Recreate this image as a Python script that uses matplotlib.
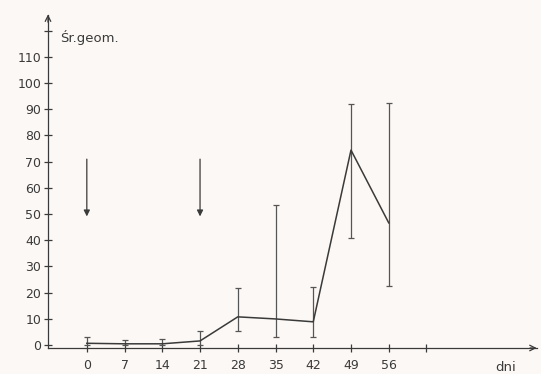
import numpy as np
import matplotlib
matplotlib.use("Agg")
import matplotlib.pyplot as plt

# days and geometric means
days = [0, 7, 14, 21, 28, 35, 42, 49, 56]
mean = [0.6, 0.4, 0.4, 1.5, 10.7, 9.9, 8.8, 74.4, 46.6]
err_lo = [0, 0, 0, 0, 5.3, 3.0, 3.0, 40.8, 22.5]
err_hi = [3.0, 2.0, 2.3, 5.3, 21.8, 53.4, 22.0, 92.0, 92.4]
yticks = [0, 10, 20, 30, 40, 50, 60, 70, 80, 90, 100, 110, 120]
ylabels = ["0", "10", "20", "30", "40", "50", "60", "70", "80", "90", "100", "110", ""]
xticks = [0, 7, 14, 21, 28, 35, 42, 49, 56, 63]
xlabels = ["0", "7", "14", "21", "28", "35", "42", "49", "56", ""]
arrow_days = [0, 21]

ink = "#3a3a3a"
bg = "#fcf8f5"

fig = plt.figure(figsize=(5.41, 3.74), dpi=100, facecolor=bg)
ax = fig.add_axes([48/541, 26/374, 489/541, 333/374], facecolor=bg)

m = np.array(mean)
yerr = [m - np.array(err_lo), np.array(err_hi) - m]
ax.errorbar(days, mean, yerr=yerr, color=ink, lw=1.1, ecolor="#555555",
            elinewidth=0.9, capsize=2.5, capthick=0.9)

# the two arrows pointing down
for d in arrow_days:
    ax.annotate("", xy=(d, 48), xytext=(d, 72),
                arrowprops=dict(arrowstyle="-|>", color=ink, lw=0.9,
                                mutation_scale=9))

ax.set_xlim(-7.2, 83.5)
ax.set_ylim(-1.2, 126)

for s in ["top", "right"]:
    ax.spines[s].set_visible(False)
for s in ["left", "bottom"]:
    ax.spines[s].set_color(ink)
    ax.spines[s].set_linewidth(0.9)

# axis arrow heads
ax.annotate("", xy=(1.005, 0), xytext=(0.98, 0), xycoords="axes fraction",
            arrowprops=dict(arrowstyle="->", color=ink, lw=0.9))
ax.annotate("", xy=(0, 1.01), xytext=(0, 0.97), xycoords="axes fraction",
            arrowprops=dict(arrowstyle="->", color=ink, lw=0.9))

ax.set_yticks(yticks)
ax.set_yticklabels(ylabels)
ax.set_xticks(xticks)
ax.set_xticklabels(xlabels)
ax.tick_params(axis="both", direction="inout", length=6, width=0.9,
               colors=ink, labelsize=9)
ax.tick_params(axis="x", pad=5)
ax.tick_params(axis="y", pad=2)

ax.text(-5, 117.5, "Śr.geom.", fontsize=9.5, color=ink, va="center", ha="left")
ax.text(77.6, -8.5, "dni", fontsize=9.5, color=ink, va="center", ha="center")

fig.savefig("out.png", dpi=100, facecolor=bg)
